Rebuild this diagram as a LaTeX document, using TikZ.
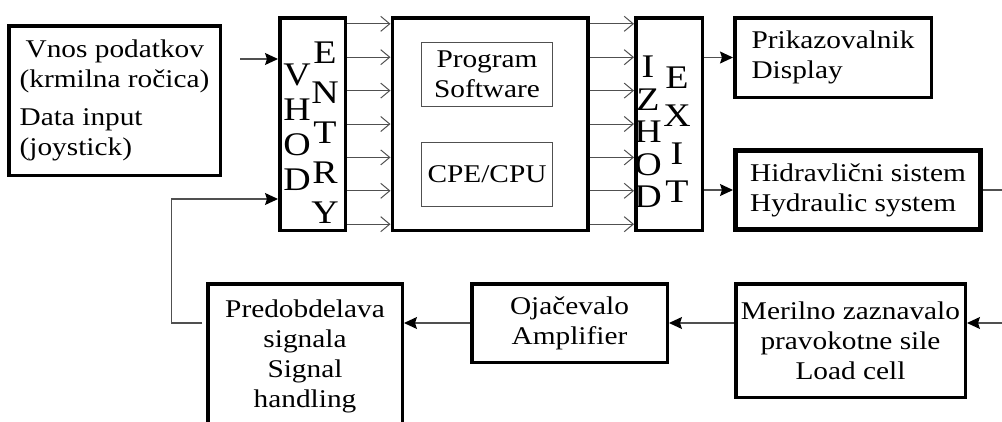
\documentclass[tikz,border=0pt]{standalone}
\usepackage{fontspec}
\setmainfont{Liberation Serif}[FakeStretch=1.15]
\usetikzlibrary{arrows.meta,positioning}
\definecolor{wireGray}{RGB}{80,80,80}

\begin{document}
\begin{tikzpicture}[
  x=1pt, y=-1pt,
  font=\fontsize{25.5}{30}\selectfont,
  blk/.style = {rectangle, draw, line width=3.5pt, inner sep=0pt, align=center},
  sub/.style = {rectangle, draw=wireGray, line width=1pt, inner sep=0pt, align=center},
  lett/.style = {align=center, inner sep=0pt},
  sig/.style = {-{Stealth[length=13pt,width=12pt,inset=2pt,color=black]},
                draw=wireGray, line width=1.2pt},
  bus/.style = {-{Straight Barb[length=9pt,width=15pt]}, draw=wireGray, line width=1pt},
  wire/.style = {draw=wireGray, line width=1.2pt}
]
\useasboundingbox (0,0) rectangle (1002,421);
\clip (0,0) rectangle (1002,421);

% Top row: input, entry, processor, exit
\node[blk, align=left, minimum width=211.5pt, minimum height=149.5pt] (inp) at (114.5,100.5)
  {\hspace*{6pt}Vnos podatkov\\(krmilna ročica)\\[8pt]Data input\\(joystick)};
\node[blk, minimum width=65.5pt, minimum height=212.5pt] (entry) at (312.5,124) {};
\node[lett, font=\fontsize{33}{35}\selectfont] (vhod) at (297,127.5) {V\\H\\O\\D};
\node[lett, font=\fontsize{33}{40}\selectfont] (entxt) at (325,132.5) {E\\N\\T\\R\\Y};

\node[blk, right=43.5pt of entry, minimum width=195.5pt, minimum height=212.5pt] (cpu) {};
\node[sub, minimum width=131pt, minimum height=64pt] (prog) at (487,74.5) {Program\\Software};
\node[sub, minimum width=131pt, minimum height=64pt] (cpe) at (487,174.5) {CPE/CPU};

\node[blk, right=44.5pt of cpu, minimum width=66.5pt, minimum height=212.5pt] (exit) {};
\node[lett, font=\fontsize{33}{32.5}\selectfont] (izhod) at (648,132) {I\\Z\\H\\O\\D};
\node[lett, font=\fontsize{33}{38}\selectfont] (extxt) at (677,135) {E\\X\\I\\T};

% Right column: display and hydraulics
\node[blk, align=left, minimum width=196.5pt, minimum height=79.5pt] (disp) at (833,57.5)
  {Prikazovalnik\\Display};
\node[blk, align=left, line width=5pt, minimum width=245pt, minimum height=79pt] (hyd) at (858,190)
  {Hidravlični sistem\\Hydraulic system};

% Bottom row: feedback chain
\node[blk, minimum width=229.5pt, minimum height=113.5pt] (load) at (850.5,340.5)
  {Merilno zaznavalo\\pravokotne sile\\Load cell};
\node[blk, minimum width=195.5pt, minimum height=78.5pt] (amp) at (569.5,323)
  {Ojačevalo\\Amplifier};
\node[blk, minimum width=194.5pt, minimum height=144.5pt] (pre) at (305,356)
  {Predobdelava\\signala\\Signal\\handling};

% Connectors
\coordinate (inpout) at ([yshift=41.5pt]inp.east);
\draw[sig, shorten <=18pt] (inpout) -- (inpout -| entry.west);

\foreach \k in {0,...,6} {
  \draw[bus] ([yshift={(3-\k)*33.4pt}]entry.east) -- ([yshift={(3-\k)*33.4pt}]cpu.west);
  \draw[bus] ([yshift={(3-\k)*33.4pt}]cpu.east) -- ([yshift={(3-\k)*33.4pt}]exit.west);
}

\draw[sig] (exit.east |- disp.west) -- (disp.west);
\draw[sig] (exit.east |- hyd.west) -- (hyd.west);
\coordinate (hydout) at ([xshift=40pt]hyd.east);
\draw[wire] (hyd.east) -- (hydout);

\coordinate (loadin) at (1012,323);
\draw[sig] (loadin) -- (loadin -| load.east);
\draw[sig] (load.west |- amp.east) -- (amp.east);
\draw[sig] (amp.west) -- (amp.west -| pre.east);

% Feedback into the entry block
\coordinate (fbout) at (amp.west -| pre.west);
\coordinate (fbin) at ([yshift=-75pt]entry.west);
\draw[sig, shorten <=4pt] (fbout) -- ++(-34.5,0) |- (fbin);

\end{tikzpicture}
\end{document}
